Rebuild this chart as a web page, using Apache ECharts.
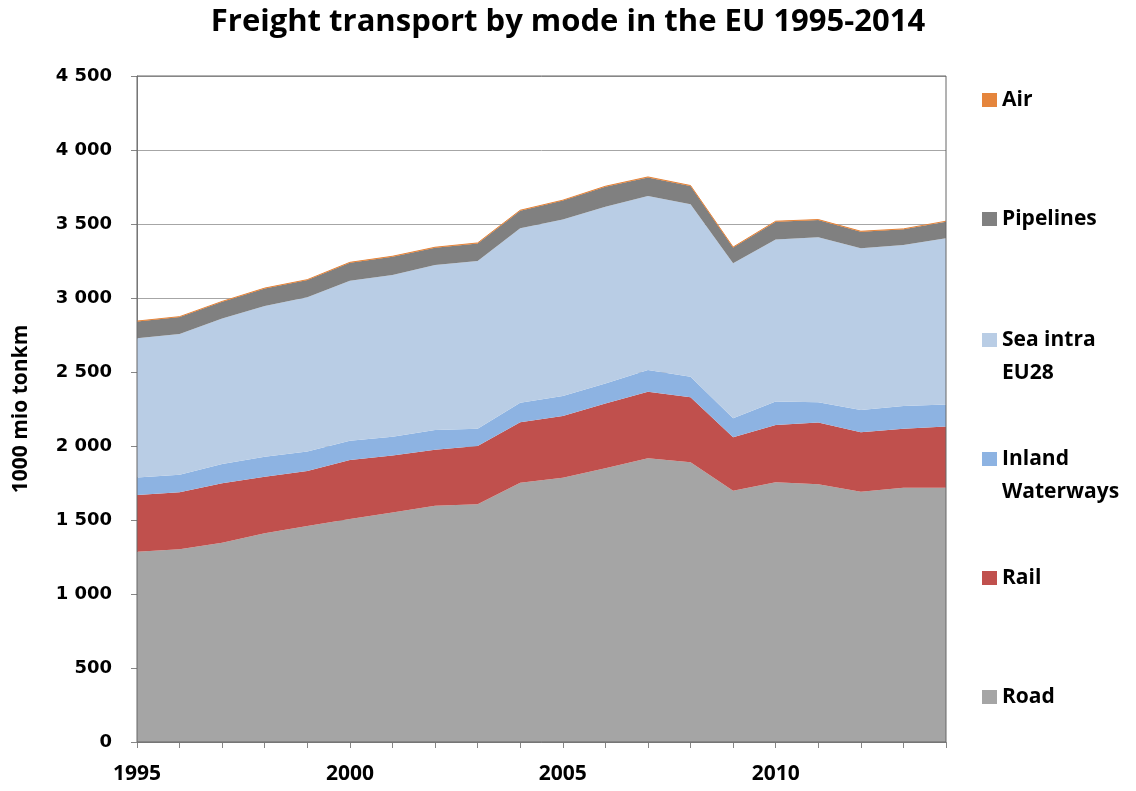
<!DOCTYPE html>
<html>
<head>
<meta charset="utf-8">
<script src="https://cdn.jsdelivr.net/npm/echarts@6/dist/echarts.min.js"></script>
<style>
  html, body { margin: 0; padding: 0; background: #fff; }
  #chart { width: 1136px; height: 791px; }
</style>
</head>
<body>
<div id="chart"></div>
<script>
const years = ['1995','1996','1997','1998','1999','2000','2001','2002','2003','2004',
  '2005','2006','2007','2008','2009','2010','2011','2012','2013','2014']

// values in 1000 mio tonkm
const road = [1286,1302,1347,1410,1459,1507,1550,1597,1606,1752,1786,1849,1917,1890,1698,1755,1741,1691,1718,1718]
const rail = [383,385,401,383,372,398,385,378,394,408,417,439,450,439,361,387,417,402,399,413]
const inland = [119,119,130,135,131,131,128,133,117,133,135,135,147,139,128,158,137,150,153,150]
const sea = [940,951,984,1018,1043,1081,1092,1115,1133,1178,1192,1194,1175,1165,1047,1096,1115,1093,1088,1122]
const pipelines = [114,115,113,119,117,122,124,117,119,119,128,135,126,124,108,120,117,112,106,113]
const air = [2,2,2,2,2,2,3,3,3,3,3,3,3,3,2,3,3,3,3,3]

const modes = ['Road', 'Rail', 'Inland Waterways', 'Sea intra EU28', 'Pipelines', 'Air']
const modeData = [road, rail, inland, sea, pipelines, air]
const colors = ['#a5a5a5', '#c0504d', '#8db3e2', '#b9cde5', '#808080', '#e5853c']

// legend labels, two-liners split like in the original
// (leading empty line keeps the first text line level with the icon)
const legendLabels = {
  'Sea intra EU28': '\nSea intra\nEU28',
  'Inland Waterways': '\nInland\nWaterways'
}
// vertical centre of each legend icon (first text line)
const legendCentres = {
  'Air': 100, 'Pipelines': 219, 'Sea intra EU28': 340,
  'Inland Waterways': 459, 'Rail': 578, 'Road': 697
}

const numFmt = v => String(v).replace(/\B(?=(\d{3})+(?!\d))/g, ' ')

const chart = echarts.init(document.getElementById('chart'))

const getSeries = () => modes.map((name, i) => ({
  name: name,
  type: 'line',
  stack: 'total',
  data: modeData[i],
  color: colors[i],
  symbol: 'none',
  lineStyle: { width: i === 5 ? 1 : 0, color: colors[i] },
  areaStyle: { color: colors[i], opacity: 1 },
  emphasis: { disabled: true },
  z: 2
}))

const LH = 33
const getLegends = () => modes.map(name => {
  const twoLines = !!legendLabels[name]
  return {
    data: [name],
    left: 982,
    top: twoLines ? legendCentres[name] - LH * 1.5 : legendCentres[name] - 13,
    padding: 0,
    itemWidth: 15,
    itemHeight: 14,
    itemGap: 0,
    icon: 'rect',
    selectedMode: false,
    formatter: n => legendLabels[n] || n,
    textStyle: {
      fontFamily: '"Open Sans", "Noto Sans", sans-serif',
      fontWeight: 'bold',
      fontSize: 21,
      color: '#000',
      lineHeight: twoLines ? LH : 26
    }
  }
})

chart.setOption({
  animation: false,
  backgroundColor: '#fff',
  title: {
    text: 'Freight transport by mode in the EU 1995-2014',
    left: 'center',
    top: 2,
    textStyle: {
      fontFamily: '"Open Sans", "Noto Sans", sans-serif',
      fontWeight: 'bold',
      fontSize: 31,
      color: '#000'
    }
  },
  legend: getLegends(),
  grid: {
    left: 137, right: 190, top: 76, bottom: 49,
    show: true,
    borderColor: '#666',
    borderWidth: 1,
    z: 3
  },
  xAxis: {
    type: 'category',
    data: years,
    boundaryGap: false,
    axisLine: { lineStyle: { color: '#868686' } },
    axisTick: { show: true, interval: 0, length: 6, lineStyle: { color: '#868686' } },
    axisLabel: {
      interval: 4,
      margin: 22,
      fontFamily: '"Liberation Sans Narrow", "Open Sans", sans-serif',
      fontWeight: 'bold',
      fontSize: 21,
      color: '#000'
    },
    splitLine: { show: false }
  },
  yAxis: {
    type: 'value',
    min: 0,
    max: 4500,
    interval: 500,
    name: '1000 mio tonkm',
    nameLocation: 'middle',
    nameGap: 105,
    nameTextStyle: {
      fontFamily: '"Open Sans", "Noto Sans", sans-serif',
      fontWeight: 'bold',
      fontSize: 21,
      color: '#000'
    },
    axisLine: { show: true, lineStyle: { color: '#868686' } },
    axisTick: { show: true, length: 6, lineStyle: { color: '#868686' } },
    axisLabel: {
      margin: 25,
      formatter: numFmt,
      fontFamily: '"DejaVu Sans", sans-serif',
      fontWeight: 'bold',
      fontSize: 18,
      color: '#000'
    },
    splitLine: { show: true, lineStyle: { color: '#a6a6a6', width: 1 } }
  },
  series: getSeries()
})
</script>
</body>
</html>
